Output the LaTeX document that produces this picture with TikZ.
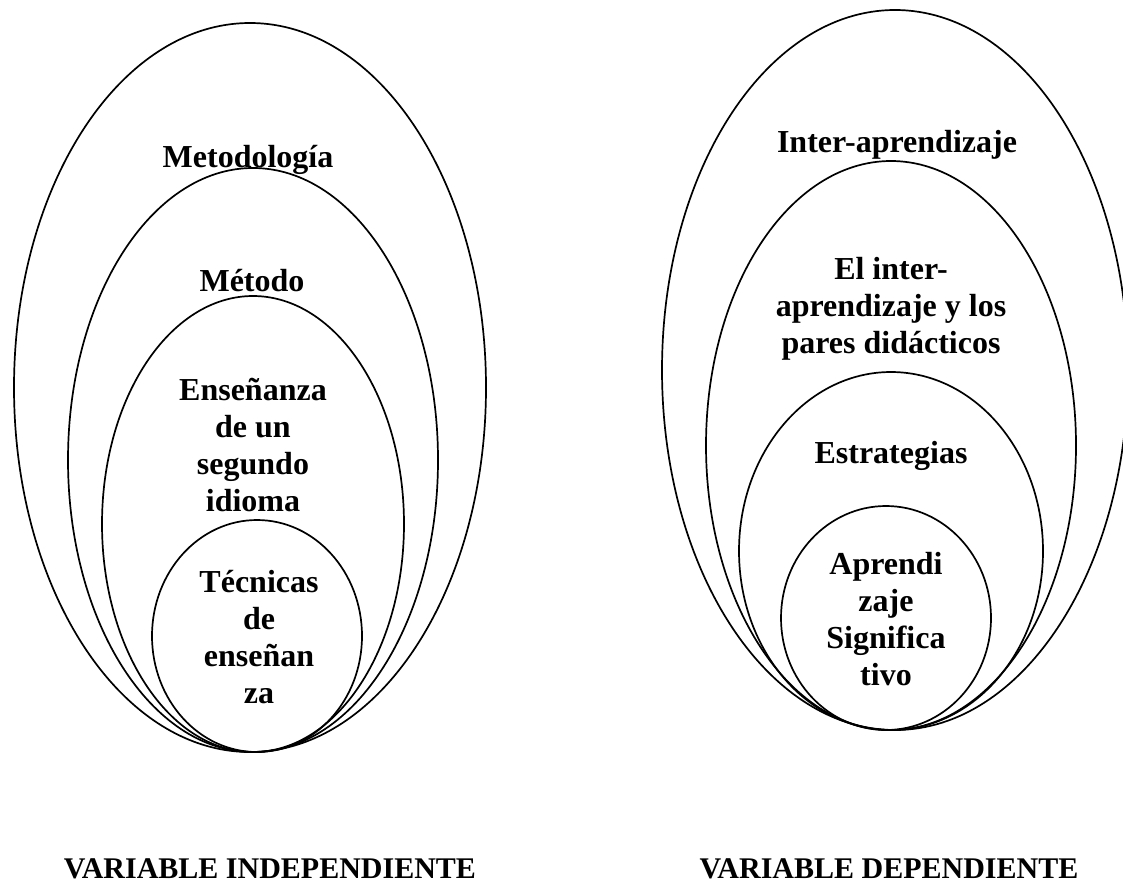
\documentclass[tikz,border=0pt]{standalone}
\usepackage{fontspec}
\setmainfont{Liberation Serif}
\usetikzlibrary{shapes.geometric}
\begin{document}
\begin{tikzpicture}[x=1pt,y=-1pt,
  ring/.style={draw=black,line width=1.7pt,ellipse,inner sep=0pt},
  lbl/.style={font=\fontsize{32}{37}\selectfont\bfseries,align=center,anchor=base,inner sep=0pt},
  var/.style={font=\fontsize{30}{34}\selectfont\bfseries,anchor=base,inner sep=0pt}]
\useasboundingbox (0,0) rectangle (1123,884);
% left group
\node[ring,minimum width=472pt,minimum height=729pt] (L1) at (250,387.5) {};
\node[ring,minimum width=370pt,minimum height=584pt] (L2) at (253,460) {};
\node[ring,minimum width=302pt,minimum height=456pt] (L3) at (253,524) {};
\node[ring,minimum width=210pt,minimum height=232pt] (L4) at (257,636) {};
\node[lbl] (tL1) at (248,167) {Metodología};
\node[lbl] (tL2) at (252,291) {Método};
\node[lbl] (tL3) at (253,511) {Enseñanza\\de un\\segundo\\idioma};
\node[lbl] (tL4) at (259,703) {Técnicas\\de\\enseñan\\za};
% right group
\node[ring,minimum width=466pt,minimum height=720pt] (R1) at (895,370) {};
\node[ring,minimum width=370pt,minimum height=569pt] (R2) at (891,445.5) {};
\node[ring,minimum width=304pt,minimum height=358pt] (R3) at (891,551) {};
\node[ring,minimum width=210pt,minimum height=224pt] (R4) at (886,618) {};
\node[lbl] (tR1) at (897,152) {Inter-aprendizaje};
\node[lbl] (tR2) at (891,353) {El inter-\\aprendizaje y los\\pares didácticos};
\node[lbl] (tR3) at (891,463) {Estrategias};
\node[lbl] (tR4) at (886,685) {Aprendi\\zaje\\Significa\\tivo};
% captions
\node[var] (vI) at (270,878) {VARIABLE INDEPENDIENTE};
\node[var] (vD) at (889,878) {VARIABLE DEPENDIENTE};
\end{tikzpicture}
\end{document}
